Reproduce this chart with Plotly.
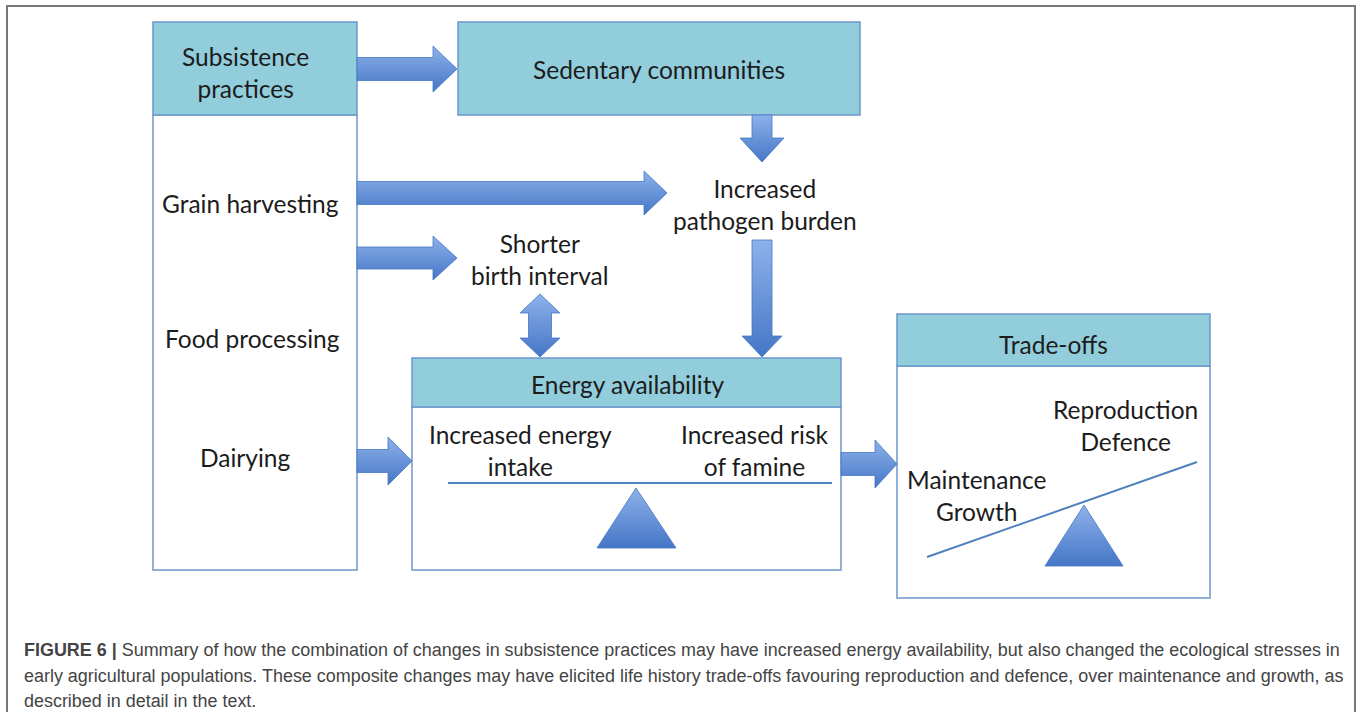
import plotly.graph_objects as go

# ---------------- text content ----------------
box_titles = ["Subsistence<br>practices", "Sedentary communities", "Energy availability", "Trade-offs"]
practices = ["Grain harvesting", "Food processing", "Dairying"]
outcomes = ["Increased<br>pathogen burden", "Shorter<br>birth interval"]
energy_sides = ["Increased energy<br>intake", "Increased risk<br>of famine"]
tradeoff_sides = ["Maintenance<br>Growth", "Reproduction<br>Defence"]
caption_lines = [
    "<b>FIGURE 6 |</b> Summary of how the combination of changes in subsistence practices may have increased energy availability, but also changed the ecological stresses in",
    "early agricultural populations. These composite changes may have elicited life history trade-offs favouring reproduction and defence, over maintenance and growth, as",
    "described in detail in the text.",
]

# ---------------- styles ----------------
HEAD_FILL = "#92CDDC"
BORDER = "#6E96CC"
LINE_BLUE = "#4F81BD"
ARROW_LIGHT = "#8DB2EA"
ARROW_DARK = "#4576C6"
TXT = "#1c1c1c"
FONT = "Lato"
FS = 24.5

W, H = 1358, 712
fig = go.Figure()
shapes = []
annotations = []


def rect(x0, y0, x1, y1, fill="white", line=BORDER, width=1.5):
    shapes.append(dict(type="rect", x0=x0, y0=y0, x1=x1, y1=y1, fillcolor=fill,
                       line=dict(color=line, width=width), layer="below"))


def text(x, y, s, size=FS, color=TXT, xanchor="center", font=FONT):
    annotations.append(dict(x=x, y=y, text=s, showarrow=False, xanchor=xanchor, yanchor="middle",
                            font=dict(family=font, size=size, color=color), align="center"))


def poly(xs, ys):
    # y axis is reversed: colorscale 0 lands at the bottom on screen
    fig.add_trace(go.Scatter(x=xs + [xs[0]], y=ys + [ys[0]], mode="lines", fill="toself",
                             line=dict(color=ARROW_DARK, width=0.8),
                             fillgradient=dict(type="vertical",
                                               colorscale=[[0, ARROW_DARK], [1, ARROW_LIGHT]]),
                             hoverinfo="skip", showlegend=False))


def harrow(x0, tip, yc, bh, hh, hl):
    xs = [x0, tip - hl, tip - hl, tip, tip - hl, tip - hl, x0]
    ys = [yc - bh, yc - bh, yc - hh, yc, yc + hh, yc + bh, yc + bh]
    poly(xs, ys)


def varrow(xc, y0, tip, bw, hw, hl):
    ys = [y0, tip - hl, tip - hl, tip, tip - hl, tip - hl, y0]
    xs = [xc - bw, xc - bw, xc - hw, xc, xc + hw, xc + bw, xc + bw]
    poly(xs, ys)


def dvarrow(xc, top, bot, bw, hw, hl):
    xs = [xc, xc + hw, xc + bw, xc + bw, xc + hw, xc, xc - hw, xc - bw, xc - bw, xc - hw]
    ys = [top, top + hl, top + hl, bot - hl, bot - hl, bot, bot - hl, bot - hl, top + hl, top + hl]
    poly(xs, ys)


# outer frame
shapes.append(dict(type="rect", x0=7, y0=6, x1=1355, y1=730, line=dict(color="#777777", width=2),
                   fillcolor="rgba(0,0,0,0)", layer="below"))

# boxes
rect(153, 115, 357, 570)
rect(153, 22, 357, 115, fill=HEAD_FILL)
rect(458, 22, 860, 115, fill=HEAD_FILL)
rect(412, 407, 841, 570)
rect(412, 358, 841, 407, fill=HEAD_FILL)
rect(897, 366, 1210, 598)
rect(897, 314, 1210, 366, fill=HEAD_FILL)

# box titles
text(245, 72, box_titles[0])
text(659, 69, box_titles[1])
text(627, 384, box_titles[2])
text(1053, 344, box_titles[3])

# practices
text(250, 203, practices[0])
text(252, 338, practices[1])
text(245, 457, practices[2])

# outcomes
text(765, 204, outcomes[0])
text(540, 259, outcomes[1])

# energy balance
text(520, 450, energy_sides[0])
text(755, 450, energy_sides[1])
shapes.append(dict(type="line", x0=448, y0=483, x1=832, y1=483, line=dict(color=LINE_BLUE, width=2)))

# trade-off seesaw
text(977, 495, tradeoff_sides[0])
text(1125, 425, tradeoff_sides[1])
shapes.append(dict(type="line", x0=927, y0=557, x1=1197, y1=462, line=dict(color=LINE_BLUE, width=2)))

# fulcrum triangles
poly([636, 676, 597], [488, 548, 548])
poly([1084, 1123, 1045], [505, 566, 566])

# arrows
harrow(357, 457, 69, 11.5, 23, 24)
harrow(357, 667, 193, 11.5, 22, 23)
harrow(357, 457, 258, 11, 22, 24)
harrow(357, 412, 461, 11.5, 24, 24)
harrow(841, 897, 464, 11.5, 24, 22)
varrow(762, 115, 162, 10, 22, 24)
varrow(762, 240, 357, 10, 20, 21)
dvarrow(540, 294, 357, 11.5, 20, 19)

# caption
cap_y = [650, 676, 701]
for s, y in zip(caption_lines, cap_y):
    text(22, y, s, size=17.95, color="#444444", xanchor="left", font="Liberation Sans")

fig.update_layout(
    width=W, height=H, margin=dict(l=0, r=0, t=0, b=0),
    paper_bgcolor="white", plot_bgcolor="white",
    xaxis=dict(range=[0, W], visible=False, fixedrange=True),
    yaxis=dict(range=[H, 0], visible=False, fixedrange=True),
    shapes=shapes, annotations=annotations, showlegend=False,
)
fig.write_html("out.html", config={"displayModeBar": False},
               post_script="document.body.style.margin='0';document.body.style.overflow='hidden';")
